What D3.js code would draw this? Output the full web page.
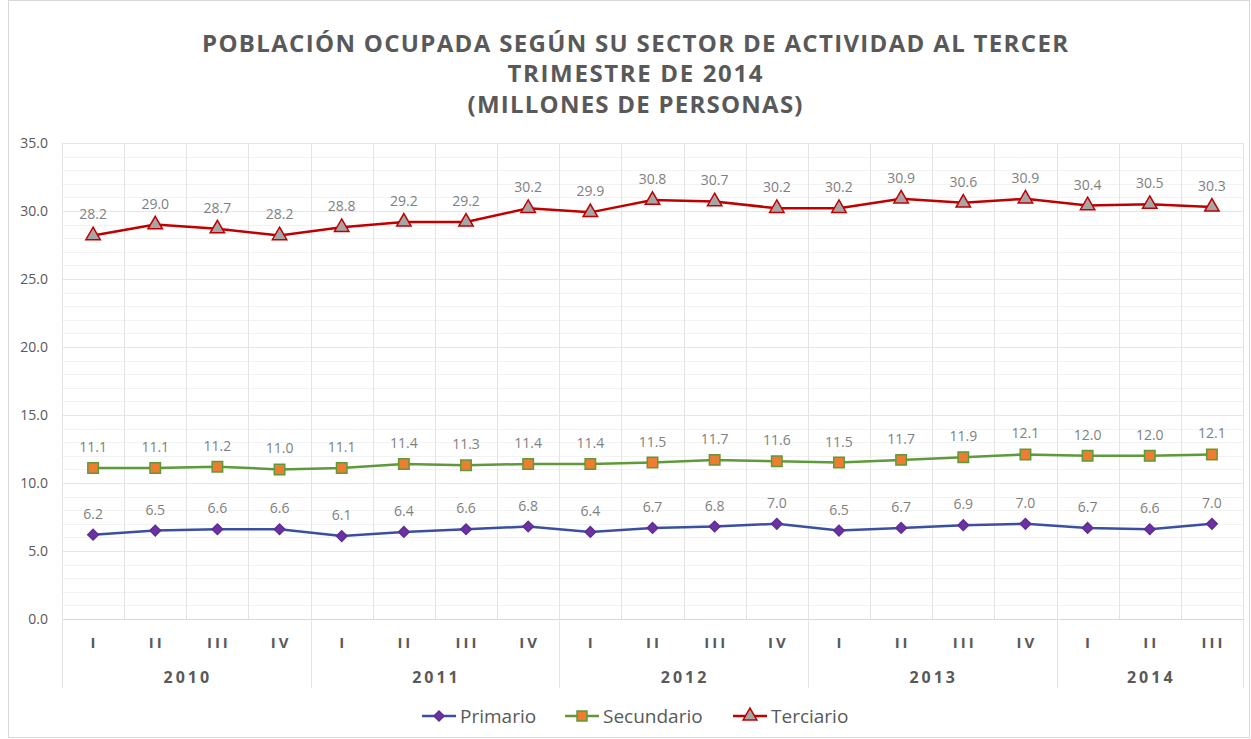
<!DOCTYPE html>
<html>
<head>
<meta charset="utf-8">
<script src="https://cdn.jsdelivr.net/npm/d3@7"></script>
<style>
  body { margin: 0; background: #fff; }
  svg { display: block; font-family: 'Open Sans', 'Noto Sans', sans-serif; }
</style>
</head>
<body>
<svg width="1251" height="739"></svg>
<script>
var years = ['2010', '2011', '2012', '2013', '2014'];
var quarters = ['I', 'II', 'III', 'IV', 'I', 'II', 'III', 'IV', 'I', 'II', 'III', 'IV',
  'I', 'II', 'III', 'IV', 'I', 'II', 'III'];
var quartersPerYear = [4, 4, 4, 4, 3];
var primario = [6.2, 6.5, 6.6, 6.6, 6.1, 6.4, 6.6, 6.8, 6.4, 6.7, 6.8, 7.0, 6.5, 6.7, 6.9, 7.0, 6.7, 6.6, 7.0];
var secundario = [11.1, 11.1, 11.2, 11.0, 11.1, 11.4, 11.3, 11.4, 11.4, 11.5, 11.7, 11.6, 11.5, 11.7, 11.9, 12.1, 12.0, 12.0, 12.1];
var terciario = [28.2, 29.0, 28.7, 28.2, 28.8, 29.2, 29.2, 30.2, 29.9, 30.8, 30.7, 30.2, 30.2, 30.9, 30.6, 30.9, 30.4, 30.5, 30.3];
var yTicks = [0, 5, 10, 15, 20, 25, 30, 35];
var titleLines = ['POBLACIÓN OCUPADA SEGÚN SU SECTOR DE ACTIVIDAD AL TERCER',
  'TRIMESTRE DE 2014', '(MILLONES DE PERSONAS)'];

var svg = d3.select('svg');
var plotLeft = 62, plotRight = 1243, plotTop = 143, plotBottom = 619;

var x = d3.scaleBand().domain(d3.range(quarters.length)).range([plotLeft, plotRight]);
var y = d3.scaleLinear().domain([0, 35]).range([plotBottom, plotTop]);

// outer frame
svg.append('rect')
  .attr('x', 8.5).attr('y', 0.5).attr('width', 1241).attr('height', 737)
  .style('fill', 'none').style('stroke', '#d9d9d9');

// title, widths matched to the reference with textLength
var titleY = [52, 82, 113];
var titleW = [866, 255, 335];
titleLines.forEach(function (t, i) {
  svg.append('text')
    .attr('x', 635).attr('y', titleY[i])
    .attr('text-anchor', 'middle')
    .attr('textLength', titleW[i])
    .attr('lengthAdjust', 'spacing')
    .style('font-size', '24px').style('font-weight', 'bold')
    .style('fill', '#595959')
    .text(t);
});

// minor gridlines
svg.append('g').selectAll('line')
  .data(d3.range(1, 35).filter(function (d) { return d % 5 !== 0; }))
  .enter().append('line')
  .attr('x1', plotLeft).attr('x2', plotRight)
  .attr('y1', function (d) { return Math.round(y(d)) + 0.5; })
  .attr('y2', function (d) { return Math.round(y(d)) + 0.5; })
  .style('stroke', '#f2f2f2');

// major gridlines
svg.append('g').selectAll('line')
  .data(yTicks)
  .enter().append('line')
  .attr('x1', plotLeft).attr('x2', plotRight)
  .attr('y1', function (d) { return Math.round(y(d)) + 0.5; })
  .attr('y2', function (d) { return Math.round(y(d)) + 0.5; })
  .style('stroke', function (d) { return d === 0 ? '#d9d9d9' : '#e6e6e6'; });

// vertical category gridlines, year boundaries run down through the year labels
var yearStarts = [0];
quartersPerYear.forEach(function (n, i) { yearStarts.push(yearStarts[i] + n); });
svg.append('g').selectAll('line')
  .data(d3.range(quarters.length + 1))
  .enter().append('line')
  .attr('x1', function (d) { return Math.round(plotLeft + d * x.step()) + 0.5; })
  .attr('x2', function (d) { return Math.round(plotLeft + d * x.step()) + 0.5; })
  .attr('y1', plotTop)
  .attr('y2', function (d) { return yearStarts.indexOf(d) >= 0 ? 688 : plotBottom; })
  .style('stroke', '#e3e3e3');

// y axis labels
svg.append('g').selectAll('text')
  .data(yTicks)
  .enter().append('text')
  .attr('x', 48).attr('y', function (d) { return y(d) + 5; })
  .attr('text-anchor', 'end')
  .style('font-size', '14px').style('fill', '#595959')
  .text(function (d) { return d.toFixed(1); });

// quarter labels
svg.append('g').selectAll('text')
  .data(quarters)
  .enter().append('text')
  .attr('x', function (d, i) { return x(i) + x.bandwidth() / 2 + 1.5; })
  .attr('y', 648)
  .attr('text-anchor', 'middle')
  .style('font-size', '15px').style('font-weight', 'bold')
  .style('fill', '#595959').style('letter-spacing', '3px')
  .text(function (d) { return d; });

// year labels
svg.append('g').selectAll('text')
  .data(years)
  .enter().append('text')
  .attr('x', function (d, i) {
    return plotLeft + (yearStarts[i] + quartersPerYear[i] / 2) * x.step() + 1.5;
  })
  .attr('y', 683)
  .attr('text-anchor', 'middle')
  .style('font-size', '16px').style('font-weight', 'bold')
  .style('fill', '#595959').style('letter-spacing', '3px')
  .text(function (d) { return d; });

var series = [
  { name: 'Primario', values: primario, line: '#3a4fa3', fill: '#7030a0', stroke: '#5a2f9a', symbol: d3.symbolSquare, size: 56, rotate: 45 },
  { name: 'Secundario', values: secundario, line: '#5e9a3a', fill: '#ed7d31', stroke: '#5e9a3a', symbol: d3.symbolSquare, size: 110, rotate: 0 },
  { name: 'Terciario', values: terciario, line: '#c00000', fill: '#a6a6a6', stroke: '#c00000', symbol: d3.symbolTriangle, size: 90, rotate: 0 }
];

var lineGen = d3.line()
  .x(function (d, i) { return x(i) + x.bandwidth() / 2; })
  .y(function (d) { return y(d); });

series.forEach(function (s) {
  var g = svg.append('g');
  g.append('path')
    .datum(s.values)
    .attr('d', lineGen)
    .style('fill', 'none')
    .style('stroke', s.line)
    .style('stroke-width', 2.5);
  g.selectAll('path.mark')
    .data(s.values)
    .enter().append('path')
    .attr('class', 'mark')
    .attr('d', d3.symbol().type(s.symbol).size(s.size))
    .attr('transform', function (d, i) {
      return 'translate(' + (x(i) + x.bandwidth() / 2) + ',' + y(d) + ') rotate(' + s.rotate + ')';
    })
    .style('fill', s.fill)
    .style('stroke', s.stroke)
    .style('stroke-width', 1.5);
  g.selectAll('text')
    .data(s.values)
    .enter().append('text')
    .attr('x', function (d, i) { return x(i) + x.bandwidth() / 2; })
    .attr('y', function (d) { return y(d) - 16; })
    .attr('text-anchor', 'middle')
    .style('font-size', '14px').style('fill', '#7f7f7f')
    .text(function (d) { return d.toFixed(1); });
});

// legend
var legendX = [422, 565, 733];
series.forEach(function (s, i) {
  var lg = svg.append('g').attr('transform', 'translate(' + legendX[i] + ',716)');
  lg.append('line').attr('x1', 0).attr('x2', 34)
    .style('stroke', s.line).style('stroke-width', 2.5);
  lg.append('path')
    .attr('d', d3.symbol().type(s.symbol).size(s.size * 0.9))
    .attr('transform', 'translate(17,0) rotate(' + s.rotate + ')')
    .style('fill', s.fill).style('stroke', s.stroke).style('stroke-width', 1.5);
  lg.append('text')
    .attr('x', 38).attr('y', 7)
    .style('font-size', '19px').style('fill', '#595959')
    .text(s.name);
});
</script>
</body>
</html>
